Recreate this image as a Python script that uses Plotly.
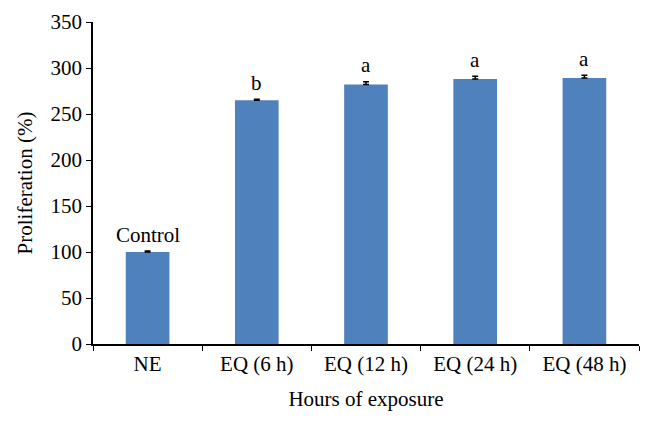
import plotly.graph_objects as go

categories = ["NE", "EQ (6 h)", "EQ (12 h)", "EQ (24 h)", "EQ (48 h)"]
values = [100, 265, 282, 288, 289]
errors = [1, 1, 3, 3, 3]
labels = ["Control", "b", "a", "a", "a"]
label_offset = 18

font_family = "Liberation Serif"
bar_color = "#4F81BD"
fs = 21

fig = go.Figure()
fig.add_trace(go.Bar(
    x=categories, y=values,
    marker=dict(color=bar_color, line=dict(width=0)),
    error_y=dict(type="data", array=errors, arrayminus=[0, 0, 0, 0, 0], symmetric=False,
                 visible=True, color="black", thickness=1.5, width=3),
    width=0.4,
))

for c, v, e, t in zip(categories, values, errors, labels):
    fig.add_annotation(x=c, y=v + e + label_offset, text=t, showarrow=False,
                       yanchor="middle", font=dict(family=font_family, size=fs, color="black"))

fig.update_layout(
    width=654, height=425,
    margin=dict(l=85, r=23, t=14, b=89),
    paper_bgcolor="white", plot_bgcolor="white",
    showlegend=False,
    font=dict(family=font_family, size=fs, color="black"),
    xaxis=dict(
        automargin=False,
        showline=True, linecolor="black", linewidth=1.5,
        ticks="outside", tickson="boundaries", ticklen=5, tickcolor="black",
        title=dict(text="Hours of exposure", font=dict(size=fs), standoff=16),
        showgrid=False,
    ),
    yaxis=dict(
        automargin=False,
        range=[0, 350], dtick=50,
        showline=True, linecolor="black", linewidth=1.5,
        ticks="outside", ticklen=5, tickcolor="black",
        showgrid=False, zeroline=False,
        title=dict(text="Proliferation (%)", font=dict(size=fs), standoff=12),
    ),
)

fig.write_html("out.html")
